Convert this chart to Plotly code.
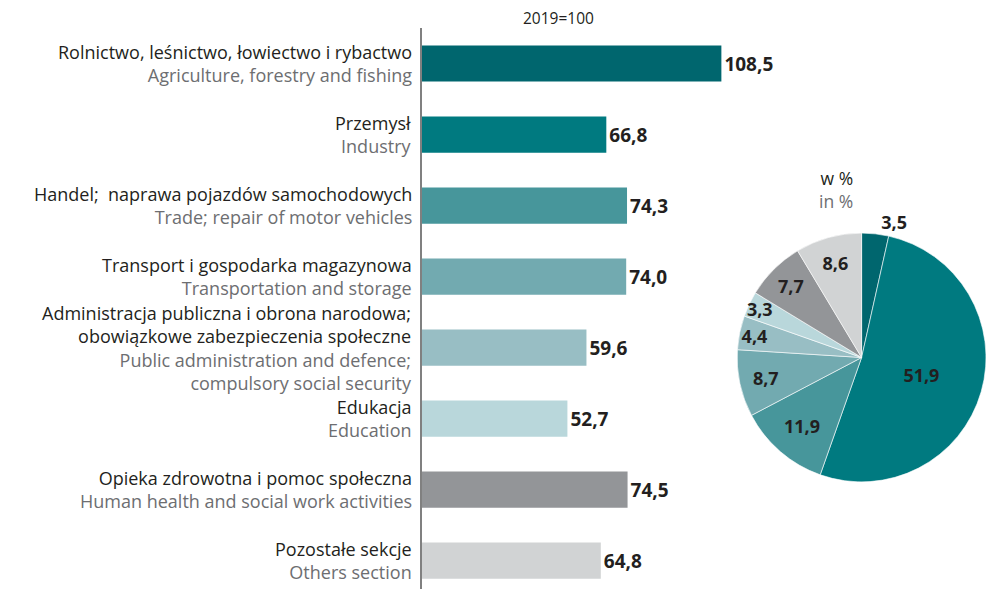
import plotly.graph_objects as go

categories_pl = [
    "Rolnictwo, leśnictwo, łowiectwo i rybactwo",
    "Przemysł",
    "Handel;  naprawa pojazdów samochodowych",
    "Transport i gospodarka magazynowa",
    "Administracja publiczna i obrona narodowa;<br>obowiązkowe zabezpieczenia społeczne",
    "Edukacja",
    "Opieka zdrowotna i pomoc społeczna",
    "Pozostałe sekcje",
]
categories_en = [
    "Agriculture, forestry and fishing",
    "Industry",
    "Trade; repair of motor vehicles",
    "Transportation and storage",
    "Public administration and defence;<br>compulsory social security",
    "Education",
    "Human health and social work activities",
    "Others section",
]
index_values = [108.5, 66.8, 74.3, 74.0, 59.6, 52.7, 74.5, 64.8]
share_values = [3.5, 51.9, 11.9, 8.7, 4.4, 3.3, 7.7, 8.6]
colors = ["#00666E", "#007A80", "#47969B", "#72AAB0", "#98BEC4", "#B9D7DB", "#939598", "#D1D3D4"]

FONT = "Open Sans"
GRAY = "#6D6E71"
BLACK = "#231F20"
LABEL_SIZE = 18


def fmt(v):
    return f"{v:.1f}".replace(".", ",")


ids = list(range(len(index_values)))

fig = go.Figure()
fig.add_trace(go.Bar(
    x=index_values, y=ids, orientation="h",
    marker=dict(color=colors, line=dict(width=0)),
    width=0.51,
    text=[f"<b>{fmt(v)}</b>" for v in index_values],
    textposition="outside", cliponaxis=False,
    textfont=dict(family=FONT, size=19, color=BLACK),
    hoverinfo="skip",
))
fig.add_trace(go.Pie(
    values=share_values,
    sort=False, direction="clockwise", rotation=0,
    marker=dict(colors=colors, line=dict(color="white", width=0.6)),
    text=[f"<b>{fmt(v)}</b>" for v in share_values],
    textinfo="text",
    textposition=["outside"] + ["inside"] * 7,
    insidetextorientation="horizontal",
    textfont=dict(family=FONT, size=18, color=BLACK),
    domain=dict(x=[(740 - 422) / 569, 1.0], y=[(589 - 486) / 561, (589 - 229) / 561]),
    showlegend=False, hoverinfo="skip",
))

annotations = []
for i, (pl, en) in enumerate(zip(categories_pl, categories_en)):
    annotations.append(dict(
        text=f"{pl}<br><span style='color:{GRAY}'>{en}</span>",
        xref="paper", yref="y", x=0, y=i, xanchor="right", yanchor="middle",
        align="right", xshift=-8, showarrow=False,
        font=dict(family=FONT, size=LABEL_SIZE, color=BLACK),
    ))

annotations.append(dict(text="2019=100", xref="paper", yref="paper", x=(560 - 422) / 569, y=1.0,
                        yshift=-3, xanchor="center", yanchor="bottom", showarrow=False,
                        font=dict(family=FONT, size=15.5, color=BLACK)))
annotations.append(dict(text=f"w %<br><span style='color:{GRAY}'>in %</span>",
                        xref="paper", yref="paper",
                        x=(859 - 422) / 569, y=(589 - 189) / 561,
                        xanchor="right", yanchor="middle", align="right", showarrow=False,
                        font=dict(family=FONT, size=17.5, color=BLACK)))

fig.update_layout(
    width=991, height=589,
    margin=dict(l=422, r=0, t=28, b=0),
    paper_bgcolor="white", plot_bgcolor="white",
    showlegend=False,
    uniformtext=dict(minsize=18, mode="show"),
    font=dict(family=FONT, size=16, color=BLACK),
    xaxis=dict(range=[0, 204.4], visible=False, fixedrange=True),
    yaxis=dict(
        range=[7.4, -0.5], tickmode="array", tickvals=ids, showticklabels=False,
        showline=True, linecolor="#808080", linewidth=1.5, ticks="",
        showgrid=False, zeroline=False, fixedrange=True,
    ),
    annotations=annotations,
)

fig.write_html("out.html", config={"displayModeBar": False},
               post_script="document.body.style.margin='0px';")
